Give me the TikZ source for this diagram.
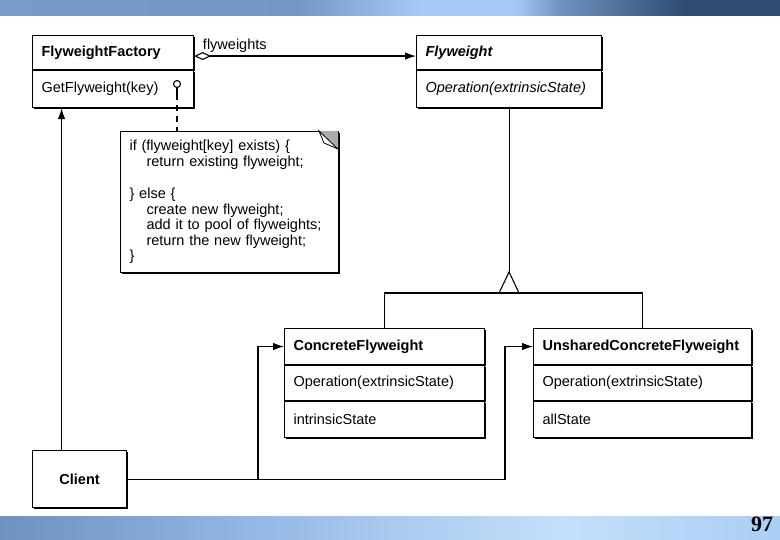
\documentclass[tikz,border=0pt]{standalone}
\usepackage{fontspec}
\setmainfont{Liberation Sans}
\newfontfamily\pagenumfont{Liberation Serif}
\usetikzlibrary{positioning,arrows.meta,shadows}

\newcommand\boxfont{\fontsize{14.5pt}{17pt}\selectfont}
\newcommand\notefont{\fontsize{14.5pt}{15.5pt}\selectfont}

\definecolor{topA}{RGB}{120,155,200}
\definecolor{topB}{RGB}{116,150,196}
\definecolor{topC}{RGB}{166,202,246}
\definecolor{topD}{RGB}{110,145,190}
\definecolor{topE}{RGB}{45,75,115}
\definecolor{botA}{RGB}{110,145,190}
\definecolor{botB}{RGB}{150,185,230}
\definecolor{botC}{RGB}{196,223,250}
\definecolor{botD}{RGB}{170,206,244}

\pgfdeclarehorizontalshading{topband}{100bp}{color(0bp)=(topA); color(25bp)=(topA); color(44bp)=(topB); color(52bp)=(topC); color(58bp)=(topC); color(61bp)=(topD); color(69bp)=(topE); color(75bp)=(topE); color(100bp)=(topE)}
\pgfdeclarehorizontalshading{botband}{100bp}{color(0bp)=(botA); color(25bp)=(botA); color(42bp)=(botB); color(61bp)=(botC); color(75bp)=(botD); color(100bp)=(botD)}

\begin{document}
\begin{tikzpicture}[x=1pt,y=-1pt,line width=1.1pt,>={Latex[length=11pt,width=7.5pt]},
  boxshadow/.style={drop shadow={shadow xshift=1.1pt, shadow yshift=-1.1pt, fill=black, opacity=1}},
  classhead/.style={draw, rectangle, fill=white, boxshadow, font=\boxfont\bfseries, align=left, inner xsep=9pt, minimum height=34pt},
  classbody/.style={draw, rectangle, fill=white, boxshadow, font=\boxfont, align=left, inner xsep=9pt, minimum height=36pt},
  notebox/.style={draw, rectangle, fill=white, boxshadow, font=\notefont, align=left, inner xsep=9pt, text width=200pt, minimum height=141pt}]
        \fill[white] (0,0) rectangle (780,540);
        \useasboundingbox (0,0) rectangle (780,540);
        \shade[shading=topband] (0,0) rectangle (780,16);
        \shade[shading=botband] (0,516) rectangle (780,540);
        \node (pagenum) [font=\pagenumfont\bfseries\fontsize{22pt}{22pt}\selectfont] at (762,524) {97};

        % classes
        \node (factory) [classhead, text width=143pt, anchor=north west] at (32,35) {FlyweightFactory};
        \node (factoryops) [classbody, text width=143pt, minimum height=37pt, below=0pt of factory] {GetFlyweight(key)};

        \node (flyweight) [classhead, text width=167pt, font=\boxfont\bfseries\itshape, anchor=north west] at (416,35) {Flyweight};
        \node (flyweightops) [classbody, text width=167pt, font=\boxfont\itshape, minimum height=37pt, below=0pt of flyweight] {Operation(extrinsicState)};

        \node (concrete) [classhead, text width=182pt, minimum height=36pt, anchor=north west] at (284,328) {ConcreteFlyweight};
        \node (concreteops) [classbody, text width=182pt, minimum height=35pt, below=0pt of concrete] {Operation(extrinsicState)};
        \node (concretestate) [classbody, text width=182pt, below=0pt of concreteops] {intrinsicState};

        \node (unshared) [classhead, text width=200pt, minimum height=36pt, anchor=north west] at (533,328) {UnsharedConcreteFlyweight};
        \node (unsharedops) [classbody, text width=200pt, minimum height=35pt, below=0pt of unshared] {Operation(extrinsicState)};
        \node (unsharedstate) [classbody, text width=200pt, below=0pt of unsharedops] {allState};

        \node (client) [draw, rectangle, fill=white, boxshadow, font=\boxfont\bfseries, minimum width=94pt, minimum height=57pt, anchor=north west] at (32,450) {Client};

        % note
        \node (note) [notebox, anchor=north west] at (120,131) {if (flyweight[key] exists) \{\\
            \hspace*{17pt}return existing flyweight;\\[17pt]
            \} else \{\\
            \hspace*{17pt}create new flyweight;\\
            \hspace*{17pt}add it to pool of flyweights;\\
            \hspace*{17pt}return the new flyweight;\\
            \}};
        \fill[gray!65] (319,131) -- (338,131) -- (338,149) -- cycle;
        \draw[fill=white, line width=0.8pt] (319,131) -- (338,149) -- (324,143) -- cycle;

        \node (port) [circle, draw, fill=white, inner sep=0pt, minimum size=7pt] at (177,84) {};
        \draw (port.south) -- ++(0,6) coordinate (stem);
        \draw[dash pattern=on 6pt off 5pt] (stem) -- (stem |- note.north);

        % connectors
        \draw[{Diamond[open,length=17pt,width=8pt]}->] ([yshift=-3.5pt]factory.east) -- ([yshift=-3.5pt]flyweight.west)
            node[pos=0, anchor=south west, xshift=5pt, font=\boxfont] (rolename) {flyweights};

        \coordinate (apex) at (flyweightops.south |- 0,272);
        \draw (flyweightops.south) -- (apex);
        \draw[fill=white] (apex) -- ++(10,21) -- ++(-20,0) -- cycle;
        \coordinate (gen) at ([yshift=-21pt]apex);
        \draw (concrete.north) |- (gen) -| (unshared.north);

        \draw[->] ([xshift=-18pt]client.north) -- ([xshift=-18pt]client.north |- factoryops.south);
        \draw[->] (client.east) -| ([xshift=-26pt]concrete.west) -- (concrete.west);
        \draw[->] (client.east) -| ([xshift=-28pt]unshared.west) -- (unshared.west);
    \end{tikzpicture}
\end{document}
